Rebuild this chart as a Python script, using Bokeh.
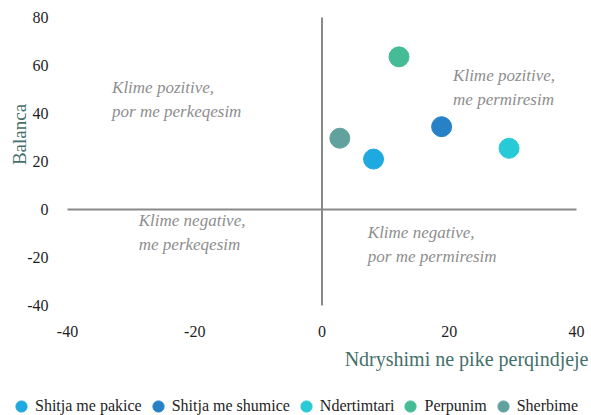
import math
from bokeh.plotting import figure
from bokeh.models import Label, FixedTicker
from bokeh.embed import file_html
from bokeh.resources import INLINE

categories = ["Shitja me pakice", "Shitja me shumice", "Ndertimtari", "Perpunim", "Sherbime"]
x_change = [8.1, 18.8, 29.4, 12.1, 2.8]
y_balance = [21.0, 34.5, 25.5, 63.6, 29.7]
colors = ["#1FA9E1", "#2681C6", "#27CAD6", "#45BC96", "#62A29E"]
x_ticks = [-40, -20, 0, 20, 40]
y_ticks = [-40, -20, 0, 20, 40, 60, 80]
x_title = "Ndryshimi ne pike perqindjeje"
y_title = "Balanca"
quadrants = [
    ("Klime pozitive,", "por me perkeqesim", -33.0, 50.8),
    ("Klime pozitive,", "me permiresim", 20.6, 56.0),
    ("Klime negative,", "me perkeqesim", -28.8, -4.5),
    ("Klime negative,", "por me permiresim", 7.2, -9.5),
]

FONT = "Liberation Serif"
W, H = 591, 415
# plot area (pixels) inside the full-canvas frame
PL, PR, PT, PB = 67, 576, 17, 305
xmin, xmax = x_ticks[0], x_ticks[-1]
ymin, ymax = y_ticks[0], y_ticks[-1]
sx = (PR - PL) / (xmax - xmin)
sy = (PB - PT) / (ymax - ymin)
x_range = (xmin - PL / sx, xmax + (W - PR) / sx)
y_range = (ymin - (H - PB) / sy, ymax + PT / sy)


def px_x(ix):
    return x_range[0] + ix / sx


def px_y(iy):
    return y_range[1] - iy / sy


p = figure(width=W, height=H, x_range=x_range, y_range=y_range,
           output_backend="svg", toolbar_location=None,
           min_border_left=0, min_border_right=0, min_border_top=0, min_border_bottom=0)
p.outline_line_color = None
p.grid.visible = False
p.background_fill_color = "white"

for ax in (p.xaxis, p.yaxis):
    ax.axis_line_color = None
    ax.major_tick_line_color = None
    ax.minor_tick_line_color = None
    ax.major_label_text_font = FONT
    ax.major_label_text_font_size = "16px"
    ax.major_label_text_color = "#1E1E1E"
p.xaxis.ticker = FixedTicker(ticks=x_ticks)
p.yaxis.ticker = FixedTicker(ticks=y_ticks)
p.xaxis.major_label_overrides = {t: str(t) for t in x_ticks}
p.yaxis.major_label_overrides = {t: str(t) for t in y_ticks}
p.xaxis.fixed_location = ymin
p.yaxis.fixed_location = xmin
p.xaxis.major_label_standoff = 14
p.yaxis.major_label_standoff = 13

# zero reference lines
p.segment(x0=[0], y0=[ymin], x1=[0], y1=[ymax], line_color="#898989", line_width=2)
p.segment(x0=[xmin], y0=[0], x1=[xmax], y1=[0], line_color="#898989", line_width=2)

for c, xv, yv, col in zip(categories, x_change, y_balance, colors):
    p.scatter([xv], [yv], size=20, color=col, line_color=col, legend_label=c)

for l1, l2, qx, qy in quadrants:
    for i, t in enumerate((l1, l2)):
        p.add_layout(Label(x=qx, y=qy - i * 10, text=t, text_font=FONT, text_font_style="italic",
                           text_font_size="17px", text_color="#8E8E8E", text_baseline="middle",
                           text_align="left"))

p.add_layout(Label(x=px_x(588), y=px_y(358), text=x_title, text_font=FONT, text_font_size="20px",
                   text_color="#44706B", text_align="right", text_baseline="middle"))
p.add_layout(Label(x=px_x(19), y=px_y(134), text=y_title, text_font=FONT, text_font_size="19px",
                   text_color="#44706B", text_align="center", text_baseline="middle",
                   angle=math.pi / 2))

lg = p.legend[0]
lg.orientation = "horizontal"
lg.location = (7, -5)
lg.glyph_width = 28
lg.glyph_height = 28
lg.label_standoff = 0
lg.spacing = 2
lg.padding = 0
lg.margin = 0
lg.border_line_color = None
lg.background_fill_alpha = 0
lg.label_text_font = FONT
lg.label_text_font_size = "16px"
lg.label_text_color = "#1E1E1E"

open("out.html", "w").write(file_html(p, INLINE))
